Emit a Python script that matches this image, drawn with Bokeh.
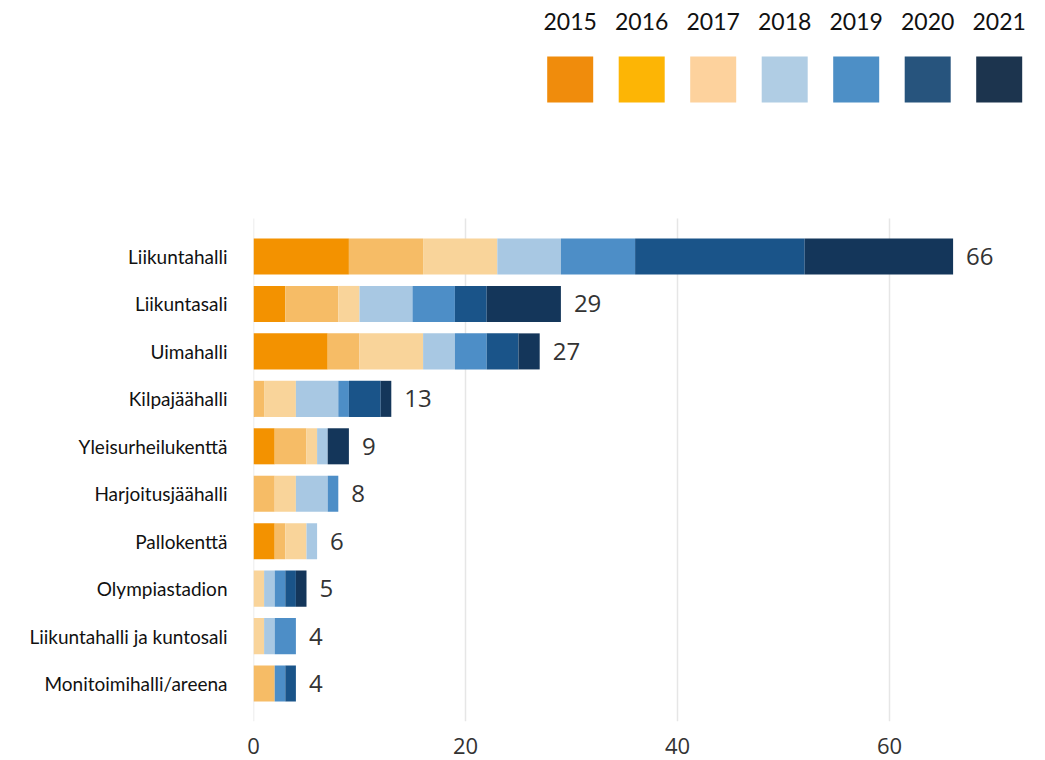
from bokeh.plotting import figure
from bokeh.models import ColumnDataSource, Range1d, FixedTicker
from bokeh.core.properties import value
from bokeh.embed import file_html
from bokeh.resources import INLINE

categories = ["Liikuntahalli", "Liikuntasali", "Uimahalli", "Kilpajäähalli",
              "Yleisurheilukenttä", "Harjoitusjäähalli", "Pallokenttä",
              "Olympiastadion", "Liikuntahalli ja kuntosali", "Monitoimihalli/areena"]
years = ["2015", "2016", "2017", "2018", "2019", "2020", "2021"]
v2015 = [9, 3, 7, 0, 2, 0, 2, 0, 0, 0]
v2016 = [7, 5, 3, 1, 3, 2, 1, 0, 0, 2]
v2017 = [7, 2, 6, 3, 1, 2, 2, 1, 1, 0]
v2018 = [6, 5, 3, 4, 1, 3, 1, 1, 1, 0]
v2019 = [7, 4, 3, 1, 0, 1, 0, 1, 2, 1]
v2020 = [16, 3, 3, 3, 0, 0, 0, 1, 0, 1]
v2021 = [14, 7, 2, 1, 2, 0, 0, 1, 0, 0]
bar_colors = ["#F39200", "#F6BC66", "#F9D49A", "#A8C8E3", "#4D8EC7", "#1A5489", "#14365A"]
legend_colors = ["#F08C0C", "#FDB505", "#FDD29D", "#B0CDE4", "#4D8FC6", "#27547D", "#1C344E"]
x_ticks = [0, 20, 40, 60]

# ---- geometry (pixels) ----
W, H = 1040, 760
left, right, top, bottom = 253, 0, 0, 39
frame_w = W - left - right
frame_h = H - top - bottom
px_per_unit = 10.6          # x scale
row_px = 47.45              # category spacing
first_center = 256.0        # canvas y of first category centre
grid_top = 218.0            # canvas y where grid lines start

y_top = (0 - first_center) / row_px
y_bot = (frame_h - first_center) / row_px

series = [v2015, v2016, v2017, v2018, v2019, v2020, v2021]
ypos = list(range(len(categories)))
data = {"cat": categories, "ypos": ypos}
for y, s in zip(years, series):
    data[y] = s
totals = [sum(vals) for vals in zip(*series)]
data["total"] = totals
data["total_txt"] = [str(t) for t in totals]
src = ColumnDataSource(data)

p = figure(width=W, height=H,
           x_range=Range1d(0, frame_w / px_per_unit),
           y_range=Range1d(y_bot, y_top),
           output_backend="svg", toolbar_location=None,
           min_border_left=left, min_border_right=right,
           min_border_top=top, min_border_bottom=bottom,
           outline_line_color=None)
p.extra_x_ranges = {"px": Range1d(left, left + frame_w)}
p.extra_y_ranges = {"px": Range1d(frame_h, 0)}

# grid lines
g_top = (grid_top - first_center) / row_px
p.segment(x0=x_ticks, x1=x_ticks, y0=[g_top] * len(x_ticks), y1=[y_bot] * len(x_ticks),
          line_color="#E6E6E6", line_width=1.5)

p.hbar_stack(years, y="ypos", height=0.76, color=bar_colors, source=src, line_color=None)
p.text(x="total", y="ypos", text="total_txt", source=src, x_offset=13,
       text_baseline="middle", text_align="left", text_font=value("Open Sans"),
       text_font_size="24px", text_color="#333333")

# legend (canvas pixel coordinates via extra ranges)
lx = [569.7 + 71.5 * i for i in range(len(years))]
leg_src = ColumnDataSource(dict(x=lx, y=[79] * len(years), ty=[21] * len(years),
                                year=years, color=legend_colors))
p.rect(x="x", y="y", width=46, height=46, width_units="screen", height_units="screen",
       fill_color="color", line_color=None, source=leg_src,
       x_range_name="px", y_range_name="px")
p.text(x="x", y="ty", text="year", source=leg_src, text_align="center",
       text_baseline="middle", text_font=value("Lato"), text_font_size="23px",
       text_color="#111111", x_range_name="px", y_range_name="px")

p.xgrid.visible = False
p.ygrid.visible = False

p.xaxis.ticker = FixedTicker(ticks=x_ticks)
p.xaxis.axis_line_color = None
p.xaxis.major_tick_line_color = None
p.xaxis.minor_tick_line_color = None
p.xaxis.major_label_text_font = "Open Sans"
p.xaxis.major_label_text_font_size = "22px"
p.xaxis.major_label_text_color = "#333333"
p.xaxis.major_label_standoff = 10

p.yaxis.ticker = FixedTicker(ticks=ypos)
p.yaxis.major_label_overrides = {i: c for i, c in zip(ypos, categories)}
p.yaxis.axis_line_color = None
p.yaxis.major_tick_line_color = None
p.yaxis.minor_tick_line_color = None
p.yaxis.major_label_text_font = "Lato"
p.yaxis.major_label_text_font_size = "19px"
p.yaxis.major_label_text_color = "#111111"
p.yaxis.major_label_standoff = 20

open("out.html", "w").write(file_html(p, INLINE))
